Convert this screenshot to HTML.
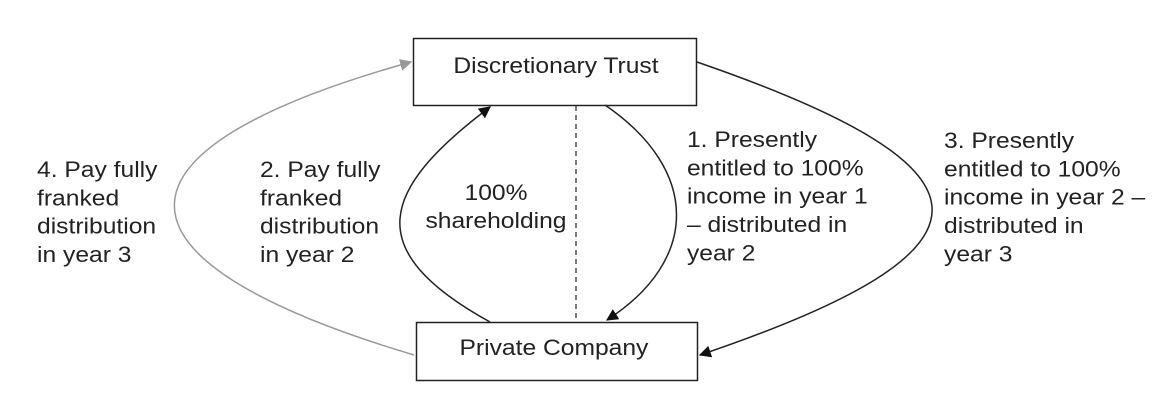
<!DOCTYPE html>
<html><head><meta charset="utf-8"><style>
html,body{margin:0;padding:0;background:#fff;}
svg{display:block;}
text{font-family:"Liberation Sans",Arial,sans-serif;font-size:22px;fill:#222;}
</style></head><body>
<svg width="1172" height="400" viewBox="0 0 1172 400" xmlns="http://www.w3.org/2000/svg">
<defs>
<marker id="ab" viewBox="0 0 10 10" refX="9" refY="5" markerWidth="12" markerHeight="12" markerUnits="userSpaceOnUse" orient="auto"><path d="M0,0 L10,5 L0,10 z" fill="#111"/></marker>
<marker id="ag" viewBox="0 0 10 10" refX="9" refY="5" markerWidth="12" markerHeight="12" markerUnits="userSpaceOnUse" orient="auto"><path d="M0,0 L10,5 L0,10 z" fill="#999"/></marker>
</defs>
<rect x="413.5" y="38.5" width="283" height="67" fill="#fff" stroke="#222" stroke-width="1.5"/>
<rect x="416.5" y="322.5" width="281" height="58" fill="#fff" stroke="#222" stroke-width="1.5"/>
<line x1="576" y1="106" x2="576" y2="322" stroke="#333" stroke-width="1.3" stroke-dasharray="5,4"/>
<path d="M490,322 C360,250 380,190 490,107" fill="none" stroke="#222" stroke-width="1.5" marker-end="url(#ab)"/>
<path d="M605,105 C700,170 700,260 607,320" fill="none" stroke="#222" stroke-width="1.5" marker-end="url(#ab)"/>
<path d="M697,62 C1010,170 1010,250 700,355" fill="none" stroke="#222" stroke-width="1.5" marker-end="url(#ab)"/>
<path d="M414,355 C95,260 95,150 411,62" fill="none" stroke="#999" stroke-width="1.5" marker-end="url(#ag)"/>
<g transform="scale(1.12,1)">
<text x="496.4" y="73" text-anchor="middle">Discretionary Trust</text>
<text x="494.6" y="355" text-anchor="middle">Private Company</text>
<text x="33.04" y="177">4. Pay fully</text>
<text x="33.04" y="205.3">franked</text>
<text x="33.04" y="233.6">distribution</text>
<text x="33.04" y="262">in year 3</text>
<text x="232.14" y="177">2. Pay fully</text>
<text x="232.14" y="205.3">franked</text>
<text x="232.14" y="233.6">distribution</text>
<text x="232.14" y="262">in year 2</text>
<text x="442.86" y="200" text-anchor="middle">100%</text>
<text x="442.86" y="228" text-anchor="middle">shareholding</text>
<text x="613.39" y="147">1. Presently</text>
<text x="613.39" y="175.3">entitled to 100%</text>
<text x="613.39" y="203.6">income in year 1</text>
<text x="613.39" y="232">– distributed in</text>
<text x="613.39" y="260.3">year 2</text>
<text x="842.86" y="148">3. Presently</text>
<text x="842.86" y="176.3">entitled to 100%</text>
<text x="842.86" y="204.6">income in year 2 –</text>
<text x="842.86" y="233">distributed in</text>
<text x="842.86" y="261.3">year 3</text>
</g>
</svg>
</body></html>
